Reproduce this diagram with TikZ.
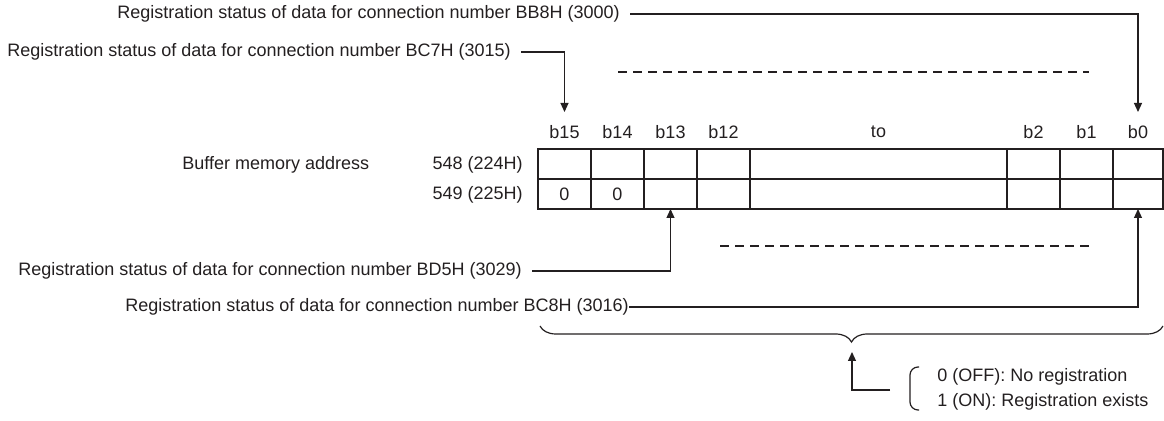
\documentclass[tikz,border=0pt]{standalone}
\usepackage{fontspec}
\setmainfont{Liberation Sans}
\usetikzlibrary{arrows.meta,decorations.pathreplacing}
\definecolor{inkgray}{RGB}{35,31,32}
\tikzset{
 cell/.style={
 rectangle,
 draw=inkgray,
 line width=1.2pt,
 outer sep=0pt,
 inner sep=0pt,
 minimum width=26.5pt,
 minimum height=15pt,
 text=inkgray,
 font=\fontsize{9}{11}\selectfont
 },
 bitlabel/.style={
 inner sep=0pt,
 text=inkgray,
 font=\fontsize{9}{11}\selectfont
 },
 note/.style={
 inner sep=0pt,
 anchor=west,
 text=inkgray,
 font=\fontsize{9}{11}\selectfont
 },
 conn/.style={-{Triangle[length=4.5pt,width=4pt]}, line width=0.6pt, draw=inkgray},
 thinline/.style={line width=0.6pt, draw=inkgray},
 dashline/.style={line width=0.6pt, draw=inkgray, dash pattern=on 4.5pt off 3pt}
}
\begin{document}
\begin{tikzpicture}[x=0.5pt, y=-0.5pt]
 \useasboundingbox (0,0) rectangle (1164,421);
 % texts at the left
 \node[note] (bb8) at (117,14) {Registration status of data for connection number BB8H (3000)};
 \node[note] (bc7) at (7,52) {Registration status of data for connection number BC7H (3015)};
 \node[note] (bufaddr) at (182,165) {Buffer memory address};
 \node[note, anchor=east] (adr548) at (523,165) {548 (224H)};
 \node[note, anchor=east] (adr549) at (523,195) {549 (225H)};
 \node[note] (bd5) at (18,271) {Registration status of data for connection number BD5H (3029)};
 \node[note] (bc8) at (125,307) {Registration status of data for connection number BC8H (3016)};
 % bit labels
 \node[bitlabel] (lb15) at (564.5,132) {b15};
 \node[bitlabel] (lb14) at (617.5,132) {b14};
 \node[bitlabel] (lb13) at (670.5,132) {b13};
 \node[bitlabel] (lb12) at (723.5,132) {b12};
 \node[bitlabel] (lbto) at (878.5,132) {to};
 \node[bitlabel] (lb2) at (1033.5,132) {b2};
 \node[bitlabel] (lb1) at (1086.5,132) {b1};
 \node[bitlabel] (lb0) at (1138,132) {b0};
 % first row
 \node[cell] (r1c15) at (564.5,164) {};
 \node[cell] (r1c14) at (617.5,164) {};
 \node[cell] (r1c13) at (670.5,164) {};
 \node[cell] (r1c12) at (723.5,164) {};
 \node[cell, minimum width=128.5pt] (r1to) at (878.5,164) {};
 \node[cell] (r1c2) at (1033.5,164) {};
 \node[cell] (r1c1) at (1086.5,164) {};
 \node[cell, minimum width=25pt] (r1c0) at (1138,164) {};
 % second row
 \node[cell] (r2c15) at (564.5,194) {0};
 \node[cell] (r2c14) at (617.5,194) {0};
 \node[cell] (r2c13) at (670.5,194) {};
 \node[cell] (r2c12) at (723.5,194) {};
 \node[cell, minimum width=128.5pt] (r2to) at (878.5,194) {};
 \node[cell] (r2c2) at (1033.5,194) {};
 \node[cell] (r2c1) at (1086.5,194) {};
 \node[cell, minimum width=25pt] (r2c0) at (1138,194) {};
 % dashed lines
 \draw[dashline] (618,72) -- (1089,72);
 \draw[dashline] (720,246) -- (1089,246);
 % arrows
 \draw[conn, shorten <=5pt, shorten >=6.5pt] (bb8.east) -| (lb0.north);
 \draw[conn, shorten <=5pt, shorten >=6.5pt] (bc7.east) -| (lb15.north);
 \draw[conn, shorten <=5pt] (bd5.east) -| (r2c13.south);
 \draw[conn] (bc8.east) -| (r2c0.south);
 % brace and meaning of the bits
 \draw[thinline, decorate, decoration={brace, amplitude=8pt, mirror}] (540,326) -- (1163,326);
 \coordinate (brtip) at (852,342);
 \coordinate (legin) at (890,390);
 \draw[conn, shorten >=5pt] (legin) -| (brtip);
 \draw[thinline, rounded corners=4pt] (919,367) -- (910,367) -- (910,410) -- (919,410);
 \node[note] (off) at (937,377) {0 (OFF): No registration};
 \node[note] (on) at (937,402) {1 (ON): Registration exists};
\end{tikzpicture}
\end{document}
